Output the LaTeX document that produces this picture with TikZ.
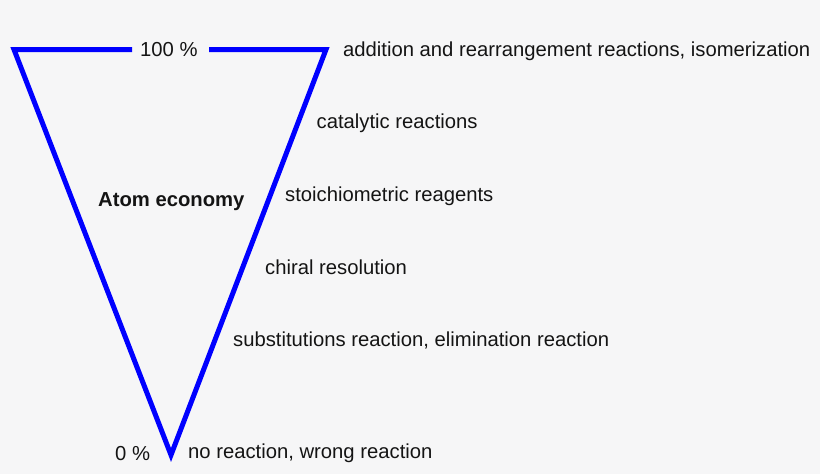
\documentclass[tikz,border=0pt]{standalone}
\usepackage{fontspec}
\setmainfont{Liberation Sans}
\definecolor{bg}{RGB}{246,246,247}
\definecolor{tri}{RGB}{0,0,255}
\definecolor{txt}{RGB}{20,20,20}
\begin{document}
\begin{tikzpicture}[x=1pt,y=-1pt,
  lbl/.style={anchor=base west,inner sep=0pt,font=\fontsize{20.25}{20.25}\selectfont,text=txt},
  edge/.style={draw=tri,line width=5pt,line join=miter}]
\fill[bg] (0,0) rectangle (820,474);
\useasboundingbox (0,0) rectangle (820,474);
\coordinate (tl) at (14,49.5);
\coordinate (tr) at (326,49.5);
\coordinate (bt) at (171,455);
\coordinate (gl) at (132,49.5);
\coordinate (gr) at (209,49.5);
\draw[edge] (gl) -- (tl) -- (bt) -- (tr) -- (gr);
\node[lbl] (hundred) at (140,56) {100 \%};
\node[lbl] (zero) at (115,460) {0 \%};
\node[lbl,font=\bfseries\fontsize{20.25}{20.25}\selectfont] (ae) at (98,206) {Atom economy};
\node[lbl] (l1) at (343,56) {addition and rearrangement reactions, isomerization};
\node[lbl] (l2) at (316.5,128) {catalytic reactions};
\node[lbl] (l3) at (285,201.5) {stoichiometric reagents};
\node[lbl] (l4) at (265,274) {chiral resolution};
\node[lbl] (l5) at (233,346.5) {substitutions reaction, elimination reaction};
\node[lbl] (l6) at (188,458.5) {no reaction, wrong reaction};
\end{tikzpicture}
\end{document}
